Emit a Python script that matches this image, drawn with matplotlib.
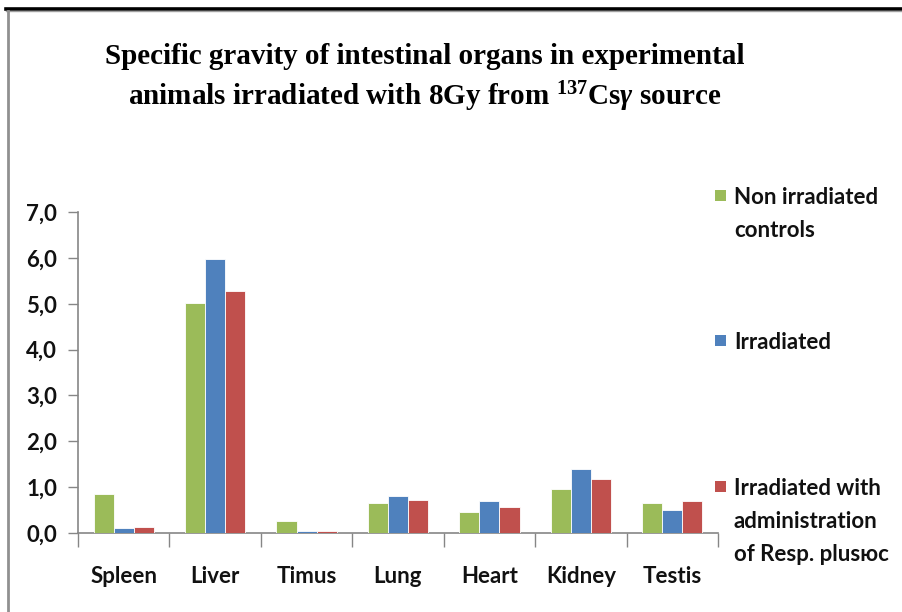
import matplotlib
matplotlib.use("Agg")
import matplotlib.pyplot as plt
import numpy as np
from matplotlib.patches import Rectangle
from matplotlib.lines import Line2D

organs = ["Spleen", "Liver", "Timus", "Lung", "Heart", "Kidney", "Testis"]
non_irradiated = [0.85, 5.02, 0.27, 0.65, 0.46, 0.96, 0.65]
irradiated = [0.10, 5.98, 0.04, 0.81, 0.69, 1.40, 0.51]
irradiated_resp = [0.12, 5.28, 0.04, 0.71, 0.57, 1.18, 0.69]
series_labels = ["Non irradiated\ncontrols", "Irradiated",
                 "Irradiated with\nadministration\nof Resp. plusюс"]
colors = ["#9BBB59", "#4F81BD", "#C0504D"]
yticks = [0, 1, 2, 3, 4, 5, 6, 7]

plt.rcParams['mathtext.fontset'] = 'custom'
plt.rcParams['mathtext.rm'] = 'Liberation Serif:bold'
plt.rcParams['mathtext.it'] = 'Liberation Serif:italic:bold'
plt.rcParams['mathtext.bf'] = 'Liberation Serif:bold'

W, H = 902, 612
fig = plt.figure(figsize=(W / 100, H / 100), dpi=100)

# frame lines
fig.add_artist(Line2D([6 / W, 1], [1 - 9 / H, 1 - 9 / H], color="black", lw=2.6, transform=fig.transFigure))
fig.add_artist(Line2D([6 / W, 1], [1 - 11 / H, 1 - 11 / H], color="#a0a0a0", lw=1.0, transform=fig.transFigure))
fig.add_artist(Line2D([8 / W, 8 / W], [0, 1 - 11 / H], color="#909090", lw=2.0, transform=fig.transFigure))

left, right, bottom, top = 78, 718, 533, 212
ax = fig.add_axes([left / W, 1 - bottom / H, (right - left) / W, (bottom - top) / H])

x = np.arange(len(organs))
bw = 0.22
series = [non_irradiated, irradiated, irradiated_resp]
for i, (vals, c) in enumerate(zip(series, colors)):
    ax.bar(x + (i - 1) * bw, vals, width=bw, color=c, edgecolor="white", linewidth=0.6, zorder=3)

ax.set_xlim(-0.5, len(organs) - 0.5)
ax.set_ylim(0, 7)
ax.set_yticks(yticks)
ax.set_yticklabels([f"{v:.1f}".replace(".", ",") for v in yticks],
                   fontsize=16, fontweight="bold", family="Lato", color="#111111")
ax.set_xticks(x)
ax.set_xticklabels(organs, fontsize=16, fontweight="bold", family="Lato", color="#111111")
ax.tick_params(axis="x", length=0, pad=24)
ax.tick_params(axis="y", length=7, color="#868686", width=1, pad=8)
# minor ticks between categories
ax.set_xticks(np.arange(-0.5, len(organs) + 0.5, 1), minor=True)
ax.tick_params(axis="x", which="minor", length=10, color="#868686", width=1)
for s in ["top", "right"]:
    ax.spines[s].set_visible(False)
for s in ["left", "bottom"]:
    ax.spines[s].set_color("#868686")
    ax.spines[s].set_linewidth(1.2)

# title
fig.text(425 / W, 1 - 57 / H, "Specific gravity of intestinal organs in experimental",
         ha="center", va="center", fontsize=21, fontweight="bold", family="Liberation Serif")
fig.text(425 / W, 1 - 97 / H, r"animals irradiated with 8Gy from $^{137}$Cs$\gamma$ source",
         ha="center", va="center", fontsize=21, fontweight="bold", family="Liberation Serif")

# legend
leg_y = [196, 341, 487]
for lab, c, yy in zip(series_labels, colors, leg_y):
    fig.add_artist(Rectangle((715 / W, 1 - (yy + 5) / H), 11 / W, 11 / H,
                             facecolor=c, edgecolor="none", transform=fig.transFigure))
    fig.text(734 / W, 1 - (yy - 9) / H, lab, ha="left", va="top", fontsize=16,
             fontweight="bold", family="Lato", color="#111111", linespacing=1.7)

fig.savefig("out.png", dpi=100)
